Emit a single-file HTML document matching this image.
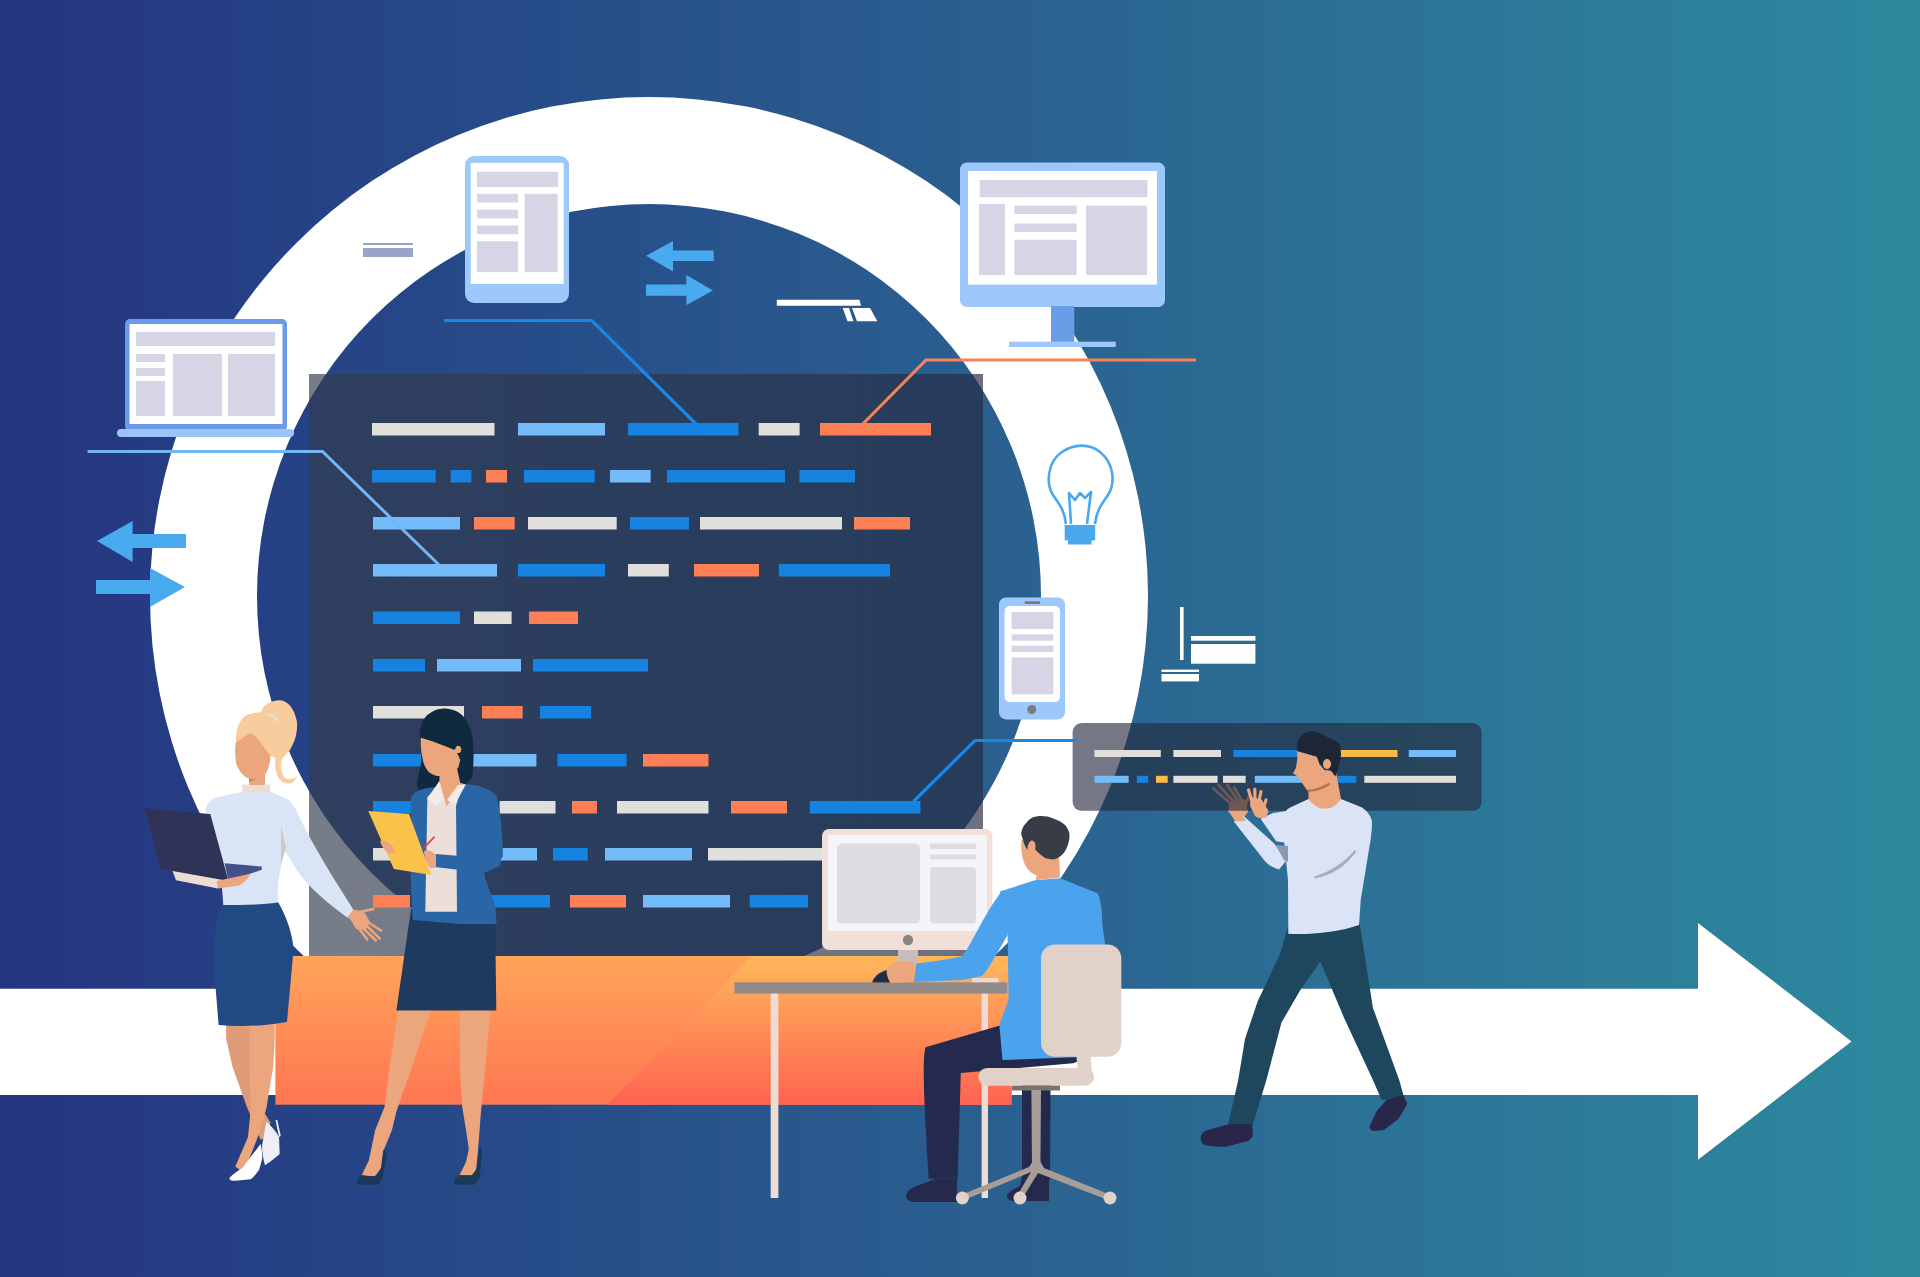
<!DOCTYPE html>
<html><head><meta charset="utf-8"><title>Dev</title>
<style>html,body{margin:0;padding:0;overflow:hidden;background:#253480;}svg{display:block;}</style>
</head><body>
<svg width="1920" height="1277" viewBox="0 0 1920 1277">
<defs>
<linearGradient id="bg" x1="0" y1="0" x2="1920" y2="0" gradientUnits="userSpaceOnUse">
<stop offset="0" stop-color="#253480"/>
<stop offset="0.25" stop-color="#264a88"/>
<stop offset="0.5" stop-color="#2a5e8f"/>
<stop offset="0.75" stop-color="#2c7597"/>
<stop offset="1" stop-color="#2d899e"/>
</linearGradient>
<linearGradient id="plat" x1="0" y1="956" x2="0" y2="1105" gradientUnits="userSpaceOnUse">
<stop offset="0" stop-color="#ffa45a"/>
<stop offset="1" stop-color="#ff7652"/>
</linearGradient>
<linearGradient id="plat2" x1="0" y1="956" x2="0" y2="1105" gradientUnits="userSpaceOnUse">
<stop offset="0" stop-color="#ffb75b"/>
<stop offset="1" stop-color="#ff6352"/>
</linearGradient>
</defs>
<rect x="0" y="0" width="1920" height="1277" fill="url(#bg)"/>
<path fill="#fff" fill-rule="evenodd" d="M150,596a499,499 0 1,0 998,0a499,499 0 1,0 -998,0z M257,596a392,392 0 1,0 784,0a392,392 0 1,0 -784,0z"/>

<!-- laptop -->
<rect x="125" y="319" width="162" height="112" rx="5" fill="#6b9be8"/>
<rect x="129.5" y="324" width="153" height="100" fill="#fff"/>
<g fill="#d6d5e5">
<rect x="136" y="332" width="139" height="14"/>
<rect x="136" y="354" width="29" height="8"/>
<rect x="136" y="368" width="29" height="8"/>
<rect x="136" y="381" width="29" height="35"/>
<rect x="173" y="354" width="49" height="62"/>
<rect x="228" y="354" width="47" height="62"/>
</g>
<rect x="117" y="429" width="177" height="8" rx="4" fill="#9dc4f7"/>
<!-- tablet -->
<rect x="465" y="156" width="104" height="147" rx="9" fill="#9cc8fb"/>
<rect x="470.7" y="162.8" width="93" height="121.2" fill="#fff"/>
<g fill="#d6d5e5">
<rect x="477" y="171.7" width="81" height="15.3"/>
<rect x="477" y="193.8" width="41" height="8.7"/>
<rect x="477" y="209.7" width="41" height="8.7"/>
<rect x="477" y="225.5" width="41" height="8.7"/>
<rect x="477" y="241.3" width="41" height="30.7"/>
<rect x="524.7" y="193.8" width="33" height="78.2"/>
</g>
<!-- small grey dash -->
<rect x="363" y="243" width="50" height="2" fill="#97a3c8"/>
<rect x="363" y="248" width="50" height="9" fill="#97a3c8"/>
<!-- arrows top -->
<g fill="#4aaaf0">
<path d="M646,255.8 L673,241 L673,250.4 L713.7,250.4 L713.7,261 L673,261 L673,271.6 Z"/>
<path d="M646,284.5 L686.4,284.5 L686.4,275 L713,290.4 L686.4,305 L686.4,295.7 L646,295.7 Z"/>
</g>
<!-- arrows left -->
<g fill="#4aaaf0">
<path d="M97,541 L132.6,521 L132.6,534 L186,534 L186,548 L132.6,548 L132.6,562 Z"/>
<path d="M96,580 L150,580 L150,568 L185,587 L150,607 L150,594 L96,594 Z"/>
</g>
<!-- monitor top right -->
<rect x="960" y="162.5" width="205" height="144.5" rx="7" fill="#9cc8fb"/>
<rect x="968" y="171" width="189" height="113.6" fill="#fff"/>
<g fill="#d6d5e5">
<rect x="979.7" y="180" width="167.7" height="17.2"/>
<rect x="979" y="204" width="26" height="71"/>
<rect x="1014.4" y="205.6" width="62.3" height="8.4"/>
<rect x="1014.4" y="223.5" width="62.3" height="8.5"/>
<rect x="1014.4" y="239.8" width="62.3" height="35.2"/>
<rect x="1086" y="205.6" width="61" height="69.4"/>
</g>
<rect x="1051" y="306" width="23.3" height="36" fill="#6a9de8"/>
<rect x="1009" y="341.7" width="106.8" height="5.3" fill="#9cc8fb"/>
<!-- white small thing -->
<g fill="#fff">
<path d="M776.8,299.7 L859.4,299.7 L861,305.7 L776.8,305.7 Z"/>
<path d="M842.7,308 L849,308 L853.4,321.3 L847.5,321.3 Z"/>
<path d="M852,308 L870,308 L877.4,321.3 L857,321.3 Z"/>
</g>
<!-- lightbulb -->
<g fill="none" stroke="#4aa8ee" stroke-width="2.6" stroke-linejoin="round">
<path d="M1066,524 C1064,508 1058,503 1053,495 C1046,484 1047,462 1062,452 C1075,443 1090,444 1100,452 C1115,464 1115,484 1108,495 C1103,503 1097,508 1095,524"/>
<path d="M1071,524 L1069,493 L1075,500 L1080,493 L1085,498 L1091,492 L1087,524"/>
</g>
<rect x="1064.7" y="525" width="30.5" height="15.4" fill="#4aa8ee"/>
<rect x="1068" y="540" width="23.5" height="4.5" fill="#4aa8ee"/>
<!-- phone -->
<rect x="999" y="597.5" width="66" height="121.9" rx="7" fill="#9cc8fb"/>
<rect x="1004.6" y="606" width="55.4" height="96" rx="5" fill="#fff"/>
<rect x="1024.8" y="601.5" width="15.2" height="2.2" fill="#7a6a6a"/>
<g fill="#d6d5e5">
<rect x="1011.6" y="612" width="41.8" height="17"/>
<rect x="1011.6" y="634.4" width="41.8" height="6.3"/>
<rect x="1011.6" y="645.6" width="41.8" height="6.4"/>
<rect x="1011.6" y="657.4" width="41.8" height="36.9"/>
</g>
<circle cx="1031.8" cy="709.5" r="4.5" fill="#7d7a80"/>
<!-- white small right -->
<g fill="#fff">
<rect x="1180" y="607" width="3.6" height="53"/>
<rect x="1191" y="636" width="64.4" height="4.7"/>
<rect x="1191" y="644" width="64.4" height="19.7"/>
<rect x="1161.5" y="669.6" width="37.5" height="2.4"/>
<rect x="1161.5" y="674" width="37.5" height="7.4"/>
</g>

<g fill="#eba67e" stroke="#eba67e" stroke-linecap="round" stroke-linejoin="round">
<path stroke="none" d="M1229.6,801.7 L1245.6,799.4 L1248,812 L1243.7,817.3 L1236.4,817.7 L1228.4,812 Z"/>
<path fill="none" stroke-width="3" d="M1231,804 L1213.5,788.5 M1234,802 L1218.5,785 M1238,801 L1227.3,785 M1242,801 L1234.2,787.5 M1245,806 L1249,796"/>
</g>

<defs><linearGradient id="pnl" x1="309" y1="0" x2="983" y2="0" gradientUnits="userSpaceOnUse"><stop offset="0" stop-color="#343d4e"/><stop offset="1" stop-color="#252a40"/></linearGradient></defs>
<rect x="309" y="374" width="674" height="582" fill="url(#pnl)" fill-opacity="0.67"/>
<rect x="372" y="423" width="122.5" height="12.5" fill="#e0dfdc"/>
<rect x="518" y="423" width="87" height="12.5" fill="#74bcf9"/>
<rect x="628" y="423" width="110.5" height="12.5" fill="#1683e0"/>
<rect x="758.7" y="423" width="40.9" height="12.5" fill="#e0dfdc"/>
<rect x="820" y="423" width="111" height="12.5" fill="#fd7f55"/>
<rect x="372" y="470" width="63.7" height="12.5" fill="#1683e0"/>
<rect x="450.7" y="470" width="20.7" height="12.5" fill="#1683e0"/>
<rect x="486" y="470" width="21" height="12.5" fill="#fd7f55"/>
<rect x="524" y="470" width="70.7" height="12.5" fill="#1683e0"/>
<rect x="610" y="470" width="40.6" height="12.5" fill="#74bcf9"/>
<rect x="667" y="470" width="118" height="12.5" fill="#1683e0"/>
<rect x="799.4" y="470" width="55.6" height="12.5" fill="#1683e0"/>
<rect x="373" y="517" width="87" height="12.5" fill="#74bcf9"/>
<rect x="474" y="517" width="40.7" height="12.5" fill="#fd7f55"/>
<rect x="528" y="517" width="88.7" height="12.5" fill="#e0dfdc"/>
<rect x="630" y="517" width="59" height="12.5" fill="#1683e0"/>
<rect x="700" y="517" width="142" height="12.5" fill="#e0dfdc"/>
<rect x="854" y="517" width="56" height="12.5" fill="#fd7f55"/>
<rect x="373" y="564" width="124" height="12.5" fill="#74bcf9"/>
<rect x="518" y="564" width="87" height="12.5" fill="#1683e0"/>
<rect x="628" y="564" width="40.8" height="12.5" fill="#e0dfdc"/>
<rect x="694" y="564" width="65" height="12.5" fill="#fd7f55"/>
<rect x="778.8" y="564" width="111.2" height="12.5" fill="#1683e0"/>
<rect x="373" y="611.5" width="87" height="12.5" fill="#1683e0"/>
<rect x="474" y="611.5" width="37.6" height="12.5" fill="#e0dfdc"/>
<rect x="529" y="611.5" width="49" height="12.5" fill="#fd7f55"/>
<rect x="373" y="659" width="52" height="12.5" fill="#1683e0"/>
<rect x="437" y="659" width="84" height="12.5" fill="#74bcf9"/>
<rect x="533" y="659" width="115" height="12.5" fill="#1683e0"/>
<rect x="373" y="706" width="91" height="12.5" fill="#e0dfdc"/>
<rect x="482" y="706" width="40.6" height="12.5" fill="#fd7f55"/>
<rect x="540" y="706" width="51" height="12.5" fill="#1683e0"/>
<rect x="373" y="754" width="87" height="12.5" fill="#1683e0"/>
<rect x="470" y="754" width="66.4" height="12.5" fill="#74bcf9"/>
<rect x="557.5" y="754" width="69.0" height="12.5" fill="#1683e0"/>
<rect x="643" y="754" width="65.5" height="12.5" fill="#fd7f55"/>
<rect x="373" y="801" width="112" height="12.5" fill="#1683e0"/>
<rect x="499.6" y="801" width="55.9" height="12.5" fill="#e0dfdc"/>
<rect x="572" y="801" width="25" height="12.5" fill="#fd7f55"/>
<rect x="617" y="801" width="91.5" height="12.5" fill="#e0dfdc"/>
<rect x="731" y="801" width="56" height="12.5" fill="#fd7f55"/>
<rect x="809.8" y="801" width="110.7" height="12.5" fill="#1683e0"/>
<rect x="373" y="848" width="87" height="12.5" fill="#e0dfdc"/>
<rect x="470" y="848" width="67" height="12.5" fill="#74bcf9"/>
<rect x="553" y="848" width="34.7" height="12.5" fill="#1683e0"/>
<rect x="605" y="848" width="87" height="12.5" fill="#74bcf9"/>
<rect x="708" y="848" width="122" height="12.5" fill="#e0dfdc"/>
<rect x="373" y="895" width="37" height="12.5" fill="#fd7f55"/>
<rect x="490" y="895" width="60" height="12.5" fill="#1683e0"/>
<rect x="570" y="895" width="56" height="12.5" fill="#fd7f55"/>
<rect x="643" y="895" width="87" height="12.5" fill="#74bcf9"/>
<rect x="749.7" y="895" width="58.3" height="12.5" fill="#1683e0"/>
<rect x="1072.6" y="723" width="409" height="87.8" rx="9" fill="#24293c" fill-opacity="0.63"/>
<rect x="1094.4" y="750" width="66.4" height="7" fill="#e0dfdc"/>
<rect x="1173.4" y="750" width="47.6" height="7" fill="#e0dfdc"/>
<rect x="1233.5" y="750" width="96.5" height="7" fill="#1683e0"/>
<rect x="1339" y="750" width="58.5" height="7" fill="#fbb94a"/>
<rect x="1408.8" y="750" width="47.2" height="7" fill="#74bcf9"/>
<rect x="1094.4" y="775.8" width="34.3" height="7" fill="#74bcf9"/>
<rect x="1136.8" y="775.8" width="11.4" height="7" fill="#1683e0"/>
<rect x="1156" y="775.8" width="11.7" height="7" fill="#fbb94a"/>
<rect x="1173.4" y="775.8" width="44.2" height="7" fill="#e0dfdc"/>
<rect x="1223" y="775.8" width="22.6" height="7" fill="#e0dfdc"/>
<rect x="1254.8" y="775.8" width="55.2" height="7" fill="#74bcf9"/>
<rect x="1320" y="775.8" width="36.3" height="7" fill="#1683e0"/>
<rect x="1364.3" y="775.8" width="91.7" height="7" fill="#e0dfdc"/>
<polyline points="87.5,451.5 322.5,451.5 438.7,564.5" fill="none" stroke="#72b6f5" stroke-width="3"/>
<polyline points="444,320.5 591.8,320.5 696,424" fill="none" stroke="#1a87e5" stroke-width="3.2"/>
<polyline points="862.8,424 926,360 1196,360" fill="none" stroke="#f98157" stroke-width="3.2"/>
<polyline points="913.5,801.5 975,740.5 1077,740.5" fill="none" stroke="#1a87e5" stroke-width="3.2"/>
<!-- white arrow -->
<path fill="#fff" d="M0,988.8 L1698,988.8 L1698,923 L1851.5,1041.4 L1698,1159.7 L1698,1095 L0,1095 Z"/>
<!-- platform -->
<rect x="275.4" y="956" width="736.2" height="148.7" fill="url(#plat)"/>
<path fill="url(#plat2)" d="M751.6,956 L1011.6,956 L1011.6,1104.7 L607.3,1104.7 Z"/>

<!-- ===== Woman 1 (blonde) ===== -->
<g id="w1">
<!-- legs -->
<path fill="#de9c76" d="M226.1,1024 L250.8,1024 L250.8,1080.5 L262,1108.7 L270.5,1122.8 L266.3,1137 L260.6,1139.8 L246.5,1105.9 L232.4,1066.4 L226.1,1038.2 Z"/>
<!-- back shoe -->
<path fill="#eeeef4" d="M264.9,1165.2 C263,1158 262,1152 262,1146 L266.3,1121.4 C271,1126 276,1131 279,1137 L279.7,1153.9 C275,1158 270,1162 264.9,1165.2 Z"/>
<path fill="#eeeef4" d="M275.5,1120 L277.3,1120 L280.8,1136 L279,1137 Z"/>
<path fill="#eba67e" d="M249.4,1024 L274.8,1024 C275,1040 274,1055 273.3,1066.4 L266.3,1108.7 L257.8,1137 L248,1162.3 L240.9,1170.8 L235.3,1166.6 L248,1137 L250.8,1108.7 L249.4,1066.4 Z"/>
<!-- front shoe -->
<path fill="#ffffff" d="M229.6,1177.8 C233,1174 238,1171 242.3,1168 L260.6,1144 C262,1150 262.5,1155 262,1159.5 L259.2,1169.4 C256,1174 253,1178 250.8,1179.3 L235.3,1180.7 C231,1181 229,1180 229.6,1177.8 Z"/>
<!-- skirt -->
<path fill="#214a84" d="M223,902 L278,902 C286,915 293,935 293.5,950 L287,1022 C265,1026 240,1027 218.6,1025 L214,968 C213,940 216,915 223,902 Z"/>
<!-- right arm (shirt) -->
<path fill="#dae4f7" d="M284,806 L296,810 C312,845 335,880 353.5,910 L348,918 C330,905 312,890 300,875 L284,849 Z"/>
<!-- hand -->
<g fill="#eba67e" stroke="#eba67e" stroke-linecap="round" stroke-linejoin="round">
<path stroke="none" d="M347.4,916.8 L353.5,909.7 C358,910 362,911 365,913 L370,922 L366,930 L356,929 L351.1,920.5 Z"/>
<path fill="none" stroke-width="2.6" d="M360,912 L373.5,909 M363,919 L381,930.5 M364,923 L379.8,938.6 M361,926 L375.8,940.5 M358,927 L367.2,939.6"/>
</g>
<!-- torso -->
<path fill="#dae4f7" d="M205,810 C208,802 212,798 218,797 L242.9,791.7 L270.2,791.7 L288.4,799.5 L296.3,810 L284,849 L278,884 L278,902.4 C260,905 240,905 223.3,905 L220.7,871 L210.3,819 Z"/>
<path fill="#d4c6c2" d="M281,825 L286,848 L281,864 Z"/>
<!-- collar -->
<rect x="242" y="784.6" width="28" height="8" fill="#eadcd6"/>
<!-- neck -->
<path fill="#eba67e" d="M249,774 L265,771 L265,785 L249,785 Z"/>
<path fill="#c98058" d="M249,778 C254,776 260,774 265,771 L265,774 C259,777 254,780 249,782 Z"/>
<!-- hair -->
<path fill="#f8cc9c" d="M235.7,742.6 C236,730 238,722 245,716 C250,713 256,712.5 261,712.6 C263,705 270,700.5 279.9,700.3 C288,701 294,708 296.8,721 C298,732 295,742 289.3,751 L282.7,757.7 C280,763 280,772 284.6,777.4 C288,780 292,780 296.8,776.5 C295,781 292,783.5 288,783.5 C283,783.5 279,780 277,774.6 C275,768 275,762 275.2,757.7 L270.5,755.8 Z"/>
<path fill="#e9dcd8" d="M267,714 C272,713 277,716 279,721 L277,722 C275,718 271,716 267,716 Z"/>
<!-- face -->
<path fill="#eba67e" d="M235.7,742.6 L249.8,733.2 L255.5,736 L270.5,755.8 C270,765 268,772 263,776 C258,779 252,779.5 248,778.3 C243,776 238,770 236,763 C235,756 235,748 235.7,742.6 Z"/>
<!-- laptop -->
<path fill="#303358" d="M144.6,808.6 L210.3,814.1 L228.5,881 L172.6,871.1 L160.8,868.5 Z"/>
<path fill="#45508a" d="M224.6,863.3 L261.7,866.6 L261.7,869.8 L228.5,881 Z"/>
<path fill="#eedcd2" d="M172.6,871.1 L228.5,881 L218,888.5 L176,880.3 Z"/>
<path fill="#eba67e" d="M216.8,881 L250.7,873.8 C247,880 243,884 239,885.5 L218,888.5 Z"/>
</g>
<!-- ===== Woman 2 (dark hair) ===== -->
<g id="w2">
<!-- legs -->
<path fill="#eba67e" d="M398.7,1008 L431.6,1008 L412.8,1064.5 L396.4,1111.5 L392,1130 L383,1152 L381,1168 L375,1176.5 L361.7,1175.3 L369,1160 L375.2,1130 L384.6,1106.8 L390.5,1059.8 Z"/>
<path fill="#eba67e" d="M459.8,1008 L490.4,1008 L485.7,1064.5 L481,1111.5 L478,1150 L476,1170 L471.9,1175.3 L459.4,1175.3 L466,1162 L468.8,1149 L466,1130 L462.2,1106.8 L459.8,1064.5 Z"/>
<path fill="#1c3857" d="M357,1181.6 C358,1178 360,1176 361.7,1175.3 C366,1176 371,1176.5 375,1176 C378,1174 380,1171 381.3,1167.5 L383.6,1149.5 C385,1150 386,1151.5 386.7,1153.4 L382.8,1176.9 C381,1181 380,1183 378,1184.7 L358.6,1184.7 C357.5,1184 357,1183 357,1181.6 Z"/>
<path fill="#1c3857" d="M454,1182.3 C455,1179 457,1176.5 459.4,1175.3 C464,1175.5 468,1175.5 471.9,1175.3 C474,1173 476,1170 477.3,1166.7 L479.7,1145.6 C481,1147 481.8,1150 482,1153.4 L479.7,1176.9 C478,1181 476,1183 474.2,1184.7 L455.5,1184.7 C454.5,1184 454,1183 454,1182.3 Z"/>
<!-- skirt -->
<path fill="#1e3a5e" d="M411,909 L495,909 L496.3,1010.4 L396.4,1010.4 Z"/>
<!-- hair back -->
<path fill="#0f2a3e" d="M419.7,735.7 C420,725 424,716 430,713.2 C436,709 441,708.5 445.1,708.5 C452,709 458,711 463,716 C468,722 471,730 472.4,737.6 C474,750 474,765 472,778 L463.9,786 L440,790 L420.7,796 L416.9,784.6 C418,775 421,765 421.6,760 Z"/>
<!-- blazer -->
<path fill="#2a65a5" d="M411,798 C414,792 420,789 428,788 L466,784 C478,785 489,788 496.6,795.7 C501,815 503,840 502.9,856.7 C496,864 488,866 482.5,866.9 L485.4,878.5 L495.6,907.6 L496.6,924 L460,924 L413,920 C411,895 410,860 411,842.5 Z"/>
<!-- shirt -->
<path fill="#ecdfd9" d="M427.4,797 L440,784 L462,786 L456,805.9 L457,911.7 L425.3,911.7 Z"/>
<!-- neck -->
<path fill="#eba67e" d="M439.5,775.2 L456.4,765.8 L460.2,782.7 L465.8,784.6 L450,802 L446.5,806 L439.5,781 Z"/>
<!-- collar -->
<path fill="#f3ebe7" d="M427.3,798.7 L439.5,780.8 L443.2,800.6 L436,806 Z"/>
<path fill="#f3ebe7" d="M465.8,784.6 L454.5,805.3 L447,800 L458,785 Z"/>
<!-- face -->
<path fill="#eba67e" d="M420.7,737.6 L432.9,741.4 L452.6,748.9 C457,752 459,756 460.2,760.2 L458.3,767.7 C453,773 449,775 447,775.2 C443,776 440,776 437.6,776.1 C433,775 430,773 428.2,771.4 C425,767 423,763 422.6,758.3 C421,752 420.5,745 420.7,737.6 Z"/>
<circle cx="457.5" cy="749.5" r="3.8" fill="#eba67e"/>
<!-- hair front fringe shadow -->
<path fill="#0f2a3e" d="M420,737.5 C428,739 440,742.5 447,746 C451,748 453,749.5 455,749.5 C456,746 458,744 461,744 L468,740 L466,725 L440,720 Z"/>
<!-- forearm -->
<path fill="#2a65a5" d="M435.5,854 L484,858 L502,852 L500,866 L484,873 L435.5,867 Z"/>
<!-- clipboard -->
<path fill="#fbc24a" d="M368.3,811 L409,814 L431.4,875 L393.8,869 Z"/>
<path fill="#e8413a" d="M422.5,848 L434,836 L435,837.5 L423.5,849.5 Z"/>
<!-- hands -->
<path fill="#eba67e" d="M380,841 C385,839 390,842 394,848 L395,854 L388,853 C384,850 381,845 380,841 Z"/>
<path fill="#eba67e" d="M424,851 C429,849 434,852 436,856 L436,868 L430,868 C426,862 424,856 424,851 Z"/>
</g>

<!-- ===== Desk & monitor ===== -->
<g id="desk">
<rect x="822" y="829" width="170.4" height="121" rx="7" fill="#f2e0d8"/>
<rect x="828" y="835" width="159" height="96" fill="#f4f5fa"/>
<rect x="837" y="843.6" width="83" height="80" rx="5" fill="#dcdde3"/>
<rect x="930" y="843.6" width="46" height="5.4" fill="#dcdde3"/>
<rect x="930" y="854.5" width="46" height="4.9" fill="#dcdde3"/>
<rect x="930" y="867" width="46" height="56.6" rx="4" fill="#dcdde3"/>
<circle cx="908" cy="940" r="5.2" fill="#8a8480"/>
<rect x="898" y="950" width="20" height="15" fill="#c8bcb8"/>
<rect x="734.4" y="982.3" width="272.9" height="11.3" fill="#918a88"/>
<rect x="770.7" y="993.6" width="7.7" height="204.4" fill="#eddcd3"/>
<rect x="981.6" y="993.6" width="6.4" height="204.4" fill="#eddcd3"/>
<rect x="972" y="978" width="26.4" height="4.3" fill="#e8dcd5"/>
</g>
<!-- ===== Seated man ===== -->
<g id="man1">
<!-- back leg -->
<path fill="#232a4d" d="M1022,1070 L1050.6,1070 L1050,1180 L1022,1180 Z"/>
<path fill="#252a4c" d="M1007,1196 C1008,1192 1013,1189 1020,1186 L1022,1178 L1049,1178 L1049,1201 L1012,1201 C1009,1200 1007,1198 1007,1196 Z"/>
<!-- pants -->
<path fill="#232a4d" d="M1002.5,1024.7 L925.5,1047.2 C922,1060 924,1100 928.7,1178.8 L957.6,1178.8 L960.8,1072.9 L1073,1063.2 L1090,1057 Z"/>
<!-- shoe -->
<path fill="#252a4c" d="M906,1196 C906,1190 915,1186 925,1183 L935,1179 L957,1179 L957,1202 L912,1202 C908,1201 906,1199 906,1196 Z"/>
<!-- shirt -->
<path fill="#4ba3ee" d="M1000,891.5 L1034.8,880.2 L1060,878.3 L1097.7,893.3 C1101,900 1102,910 1102.4,925 L1105.2,944.5 L1089.2,1056.8 L1002.5,1060 L999.3,1024.7 L1008.6,1000 L1007.6,935.1 Z"/>
<path fill="#4ba3ee" d="M1002.5,890.4 C990,905 978,930 966.9,949.4 L961.8,956.5 C945,960 930,962 916,963.6 L914,982 L961.8,980 L982,975.9 C986,972 989,967 992.3,961.6 L1007.6,935.1 Z"/>
<!-- chair -->
<rect x="1041" y="944.5" width="80.3" height="112.3" rx="14" fill="#e0d2c8"/>
<path fill="#e0d2c8" d="M1076,1052 L1090,1052 L1092,1072 L1078,1072 Z"/>
<rect x="978.4" y="1068" width="115.6" height="17.7" rx="8.8" fill="#e0d2c8"/>
<rect x="1012" y="1085.7" width="48" height="4.8" fill="#7b726e"/>
<path fill="#a89c96" d="M1031.4,1090 L1041,1090 L1040.4,1168 L1032,1168 Z"/>
<g fill="#a89c96">
<path d="M1033,1161 L1040,1161 L1044,1168 L1111,1195 L1108,1200 L1038,1173 L1022,1199 L1017,1196 L1031,1172 L964,1200 L961,1195 L1029,1167 Z"/>
</g>
<g fill="#e0d2c8">
<circle cx="962.4" cy="1198" r="6.5"/>
<circle cx="1020" cy="1198" r="6.5"/>
<circle cx="1110" cy="1198" r="6.5"/>
</g>
<!-- hand + mouse -->
<path fill="#1f2d48" d="M895.6,968.2 C886,969 878,973 875.3,976.9 C873,979 872.5,981 872.2,982.5 L895,982.5 Z"/>
<path fill="#eba67e" d="M914,961.6 L895.6,961.6 C890,964 887,968 886.5,971.8 C887,977 889,981 890.5,983 L913,982 Z"/>
<!-- head -->
<path fill="#eba67e" d="M1021.6,839.8 L1059.2,845 L1059.2,857.6 L1060,877.4 L1035.7,880.2 L1036.7,875.5 C1033,874 1030,872 1027,868 C1024,864 1023,858 1023.5,861.4 C1021,852 1021,845 1021.6,839.8 Z"/>
<path fill="#373c47" d="M1021.1,834.1 C1022,828 1024,825 1026.3,822.9 C1030,818 1034,816.5 1037.6,816.3 C1043,815.5 1048,816.5 1052.6,818.2 C1058,820 1062,822 1065.8,825.7 C1068,829 1069.5,832 1069.5,835.1 C1069.5,839 1069,842 1067.7,845.4 C1066,850 1064,853 1061.1,855.8 C1058,858 1055,859.5 1052.6,859.5 C1048,859 1045,858 1043.2,856.7 C1040,854 1037,852 1035.7,850.1 L1033,842 L1028,845 L1027.3,850.1 L1024.4,844.5 Z"/>
<ellipse cx="1032" cy="846" rx="3.6" ry="5.4" fill="#eba67e"/>
</g>
<!-- ===== Walking man ===== -->
<g id="man2">
<!-- pants -->
<path fill="#1e475e" d="M1288.3,925 L1359.1,920 L1372.9,1007.7 L1399.2,1080 L1404,1097 L1381.7,1100 L1372.9,1080 L1344,1017.7 L1320.3,961.4 L1300.2,990.2 L1281.4,1022.8 L1266.4,1080 L1252.9,1124 L1228.3,1124 L1238.2,1080 L1245,1039 L1257.6,1001.5 L1280.2,953.8 Z"/>
<!-- shoes -->
<path fill="#29264a" d="M1200.8,1138.3 C1201,1133 1204,1131 1208,1129.9 L1229.5,1123.9 L1252.3,1123.9 L1252.9,1135.9 L1248.7,1140.7 L1226,1146.7 C1215,1147 1206,1146 1203.2,1144.3 C1201,1142 1200.8,1140 1200.8,1138.3 Z"/>
<path fill="#29264a" d="M1369.7,1126.3 L1376.9,1110.7 L1386.5,1100 L1403.2,1095.2 L1407.4,1103.5 L1398.4,1119.1 L1384,1130 L1373.3,1131.1 C1370,1130 1369.5,1128 1369.7,1126.3 Z"/>
<!-- back arm sleeve -->
<path fill="#dae4f6" d="M1233.8,821.5 L1243.7,815.9 L1274.7,844 L1286,861 L1279,869.4 C1274,868 1268,865 1264.8,861 Z"/>
<!-- torso -->
<path fill="#dae4f6" d="M1281.8,818.7 C1284,812 1287,809 1290.2,807.4 L1308.5,799 C1318,803 1330,803 1341,799 L1362.1,807.4 C1368,812 1371,816 1372,821.5 C1372,828 1371.5,833 1370.6,839.8 L1360.7,900 L1359.1,925 C1340,932 1310,935 1288.3,933.8 L1288,880 Z"/>
<path fill="#a4adc2" d="M1314.2,876.5 C1330,872 1345,862 1355,849.7 L1356,852 C1346,866 1331,876 1314.2,878.5 Z"/>
<path fill="#a9b2c6" d="M1276,845 L1288,870 L1284.6,862.4 Z"/>
<!-- front arm sleeve -->
<path fill="#dae4f6" d="M1260.6,818.7 L1273.3,813 L1290.2,810.2 L1293,844 L1276.1,841.2 Z"/>
<path fill="#8d96aa" d="M1276,845 L1288,846 L1288,862 L1284,860 Z"/>
<!-- hands -->
<path fill="#eba67e" d="M1228.2,810.2 L1243.7,817.3 L1246,821 L1235.2,821.5 Z"/>
<g fill="#eba67e" stroke="#eba67e" stroke-linecap="round" stroke-linejoin="round">
<path stroke="none" d="M1250.2,797 L1261.6,799.4 L1268.5,810.8 L1266.2,817.7 L1258,818 L1254.8,815.4 L1250.2,806.2 Z"/>
<path fill="none" stroke-width="3.2" d="M1252,801 L1248.5,790 M1255,800 L1254.8,789 M1259,801 L1261,791.5 M1264,806 L1266,800"/>
</g>
<!-- neck -->
<path fill="#eba67e" d="M1308.5,789 L1326,770 L1336,772 L1341,799 C1332,812 1318,812 1308.5,799 Z"/>
<!-- face -->
<path fill="#eba67e" d="M1297.3,751 L1317,756.7 L1321.2,766.5 L1333.9,780.6 C1330,785 1327,787 1324,787.7 L1307.1,790.5 L1301.5,782 L1298.7,777.8 L1295.9,775 L1293,773.6 L1295.9,768 L1297.3,759.5 Z"/>
<path fill="#b9714f" d="M1307,790 C1315,789.5 1322,787 1329,782.5 L1330.5,784 C1324,789.5 1316,791.5 1308,791.8 Z"/>
<!-- hair -->
<path fill="#1c2635" d="M1297.3,745.4 C1298,740 1299.5,737 1301.5,735.5 C1305,732.5 1309,731.3 1312.8,731.3 C1318,732 1322,734 1326.9,736.9 C1331,739 1336,741 1339.6,744 C1341,748 1341,752 1341,755.2 C1340,763 1338,770 1335.3,776.4 L1326.9,765.1 L1319.8,765.1 L1317,756.7 L1297.3,751 Z"/>
<ellipse cx="1327" cy="764" rx="4" ry="5" fill="#eba67e"/>
</g>

</svg>
</body></html>
